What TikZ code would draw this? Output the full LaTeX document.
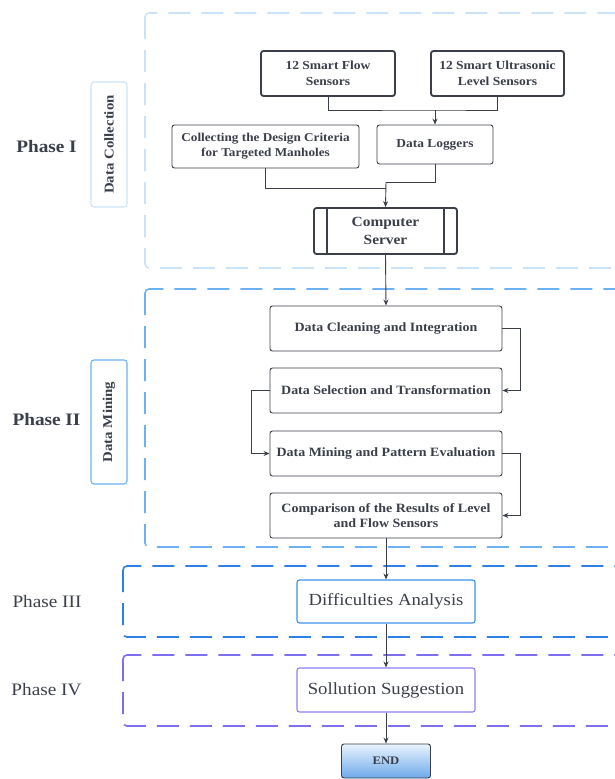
\documentclass[tikz,border=0pt]{standalone}
\usepackage{fontspec}
\setmainfont{Liberation Serif}[FakeStretch=1.1]
\usetikzlibrary{arrows.meta}
\definecolor{ink}{HTML}{3A3F4A}
\definecolor{pone}{HTML}{CBE3F8}
\definecolor{ptwo}{HTML}{6CB2F2}
\definecolor{pthree}{HTML}{2E7FE6}
\definecolor{pfour}{HTML}{7D6FF0}
\definecolor{diffc}{HTML}{3C90EA}
\definecolor{solc}{HTML}{8E80F2}
\definecolor{endtop}{HTML}{EAF3FD}
\definecolor{endbot}{HTML}{6DAAEB}
\begin{document}
\begin{tikzpicture}[x=1pt,y=-1pt,
  box/.style={draw=ink, line width=0.9pt, rounded corners=2.5pt, text=ink, align=center, inner sep=0pt,
    font=\bfseries\fontsize{12.7}{15.5}\selectfont},
  heavybox/.style={box, line width=1.8pt},
  colbox/.style={box, line width=1.1pt, font=\fontsize{17}{20}\selectfont},
  sidebox/.style={draw, line width=1.1pt, rounded corners=3pt, text=ink, inner sep=0pt, rotate=90,
    minimum height=36pt, font=\bfseries\fontsize{13.5}{16}\selectfont},
  phaselabel/.style={text=ink, inner sep=0pt},
  conn/.style={draw=ink, line width=0.9pt},
  arr/.style={conn, -{Stealth[length=6pt,width=5pt]}},
  phasebox/.style={dash pattern=on 22pt off 11pt, line width=1.6pt, rounded corners=4pt},
]
\clip (0,0) rectangle (615,779);

% phase frames
\draw[phasebox, draw=pone]   (145,13)  rectangle (660,268);
\draw[phasebox, draw=ptwo]   (145,289) rectangle (660,547);
\draw[phasebox, draw=pthree] (123,566) rectangle (660,637);
\draw[phasebox, draw=pfour]  (123,655) rectangle (660,726);

% phase labels
\node[phaselabel, font=\bfseries\fontsize{17.5}{20}\selectfont] (ph1) at (46.5,147) {Phase I};
\node[phaselabel, font=\bfseries\fontsize{17.5}{20}\selectfont] (ph2) at (46.5,420) {Phase II};
\node[phaselabel, font=\fontsize{17.5}{20}\selectfont] (ph3) at (47,602) {Phase III};
\node[phaselabel, font=\fontsize{17.5}{20}\selectfont] (ph4) at (46.5,690) {Phase IV};

\node[sidebox, draw=pone, minimum width=125pt] (dcol) at (109,144.5) {Data Collection};
\node[sidebox, draw=ptwo, minimum width=124pt] (dmin) at (109,422) {Data Mining};

% Phase I nodes
\node[heavybox, minimum width=134pt, minimum height=45pt, font=\bfseries\fontsize{12.3}{16}\selectfont] (flow) at (328,73.5) {12 Smart Flow\\Sensors};
\node[heavybox, minimum width=133pt, minimum height=45pt, font=\bfseries\fontsize{12.3}{16}\selectfont] (ultra) at (497.5,73.5) {12 Smart Ultrasonic\\Level Sensors};
\node[box, minimum width=187pt, minimum height=43pt, font=\bfseries\fontsize{12}{15}\selectfont] (collect) at (265.5,146.5) {Collecting the Design Criteria\\for Targeted Manholes};
\node[box, minimum width=116pt, minimum height=39pt, font=\bfseries\fontsize{12.2}{15}\selectfont] (loggers) at (435,144.5) {Data Loggers};
\node[heavybox, minimum width=143pt, minimum height=46pt, font=\bfseries\fontsize{14}{18}\selectfont] (server) at (385.5,231) {Computer\\Server};
\draw[ink, line width=1.8pt] ([xshift=14pt]server.north west) -- ([xshift=14pt]server.south west);
\draw[ink, line width=1.8pt] ([xshift=-14pt]server.north east) -- ([xshift=-14pt]server.south east);

% Phase II nodes
\node[box, minimum width=232pt, minimum height=45pt] (clean) at (386,328.5) {Data Cleaning and Integration};
\node[box, minimum width=232pt, minimum height=45pt] (select) at (386,390.5) {Data Selection and Transformation};
\node[box, minimum width=232pt, minimum height=45pt] (mining) at (386,453.5) {Data Mining and Pattern Evaluation};
\node[box, minimum width=232pt, minimum height=45pt] (compare) at (386,515.5) {Comparison of the Results of Level\\and Flow Sensors};

% Phase III / IV nodes
\node[colbox, draw=diffc, minimum width=178pt, minimum height=43pt] (diff) at (386,601.5) {Difficulties Analysis};
\node[colbox, draw=solc, minimum width=178pt, minimum height=44pt] (sol) at (386,690) {Sollution Suggestion};
\node[box, top color=endtop, bottom color=endbot, minimum width=89pt, minimum height=34pt, font=\bfseries\fontsize{11.5}{14}\selectfont] (endn) at (386,761) {END};

% connectors
\coordinate (j1) at (435,110);
\coordinate (j2) at (386,182);
\draw[conn] (flow.south) |- (j1) -| (ultra.south);
\draw[arr] (j1) -- (loggers.north);
\draw[conn] (collect.south) |- (386,188);
\draw[conn] (loggers.south) |- (j2);
\draw[arr] (j2) -- (server.north);
\draw[arr] (server.south) -- (clean.north);
\draw[arr] (clean.east) -- ++(18,0) |- (select.east);
\draw[arr] (select.west) -- ++(-18,0) |- (mining.west);
\draw[arr] (mining.east) -- ++(18,0) |- (compare.east);
\draw[arr] (compare.south) -- (diff.north);
\draw[arr] (diff.south) -- (sol.north);
\draw[arr] (sol.south) -- (endn.north);
\end{tikzpicture}
\end{document}
